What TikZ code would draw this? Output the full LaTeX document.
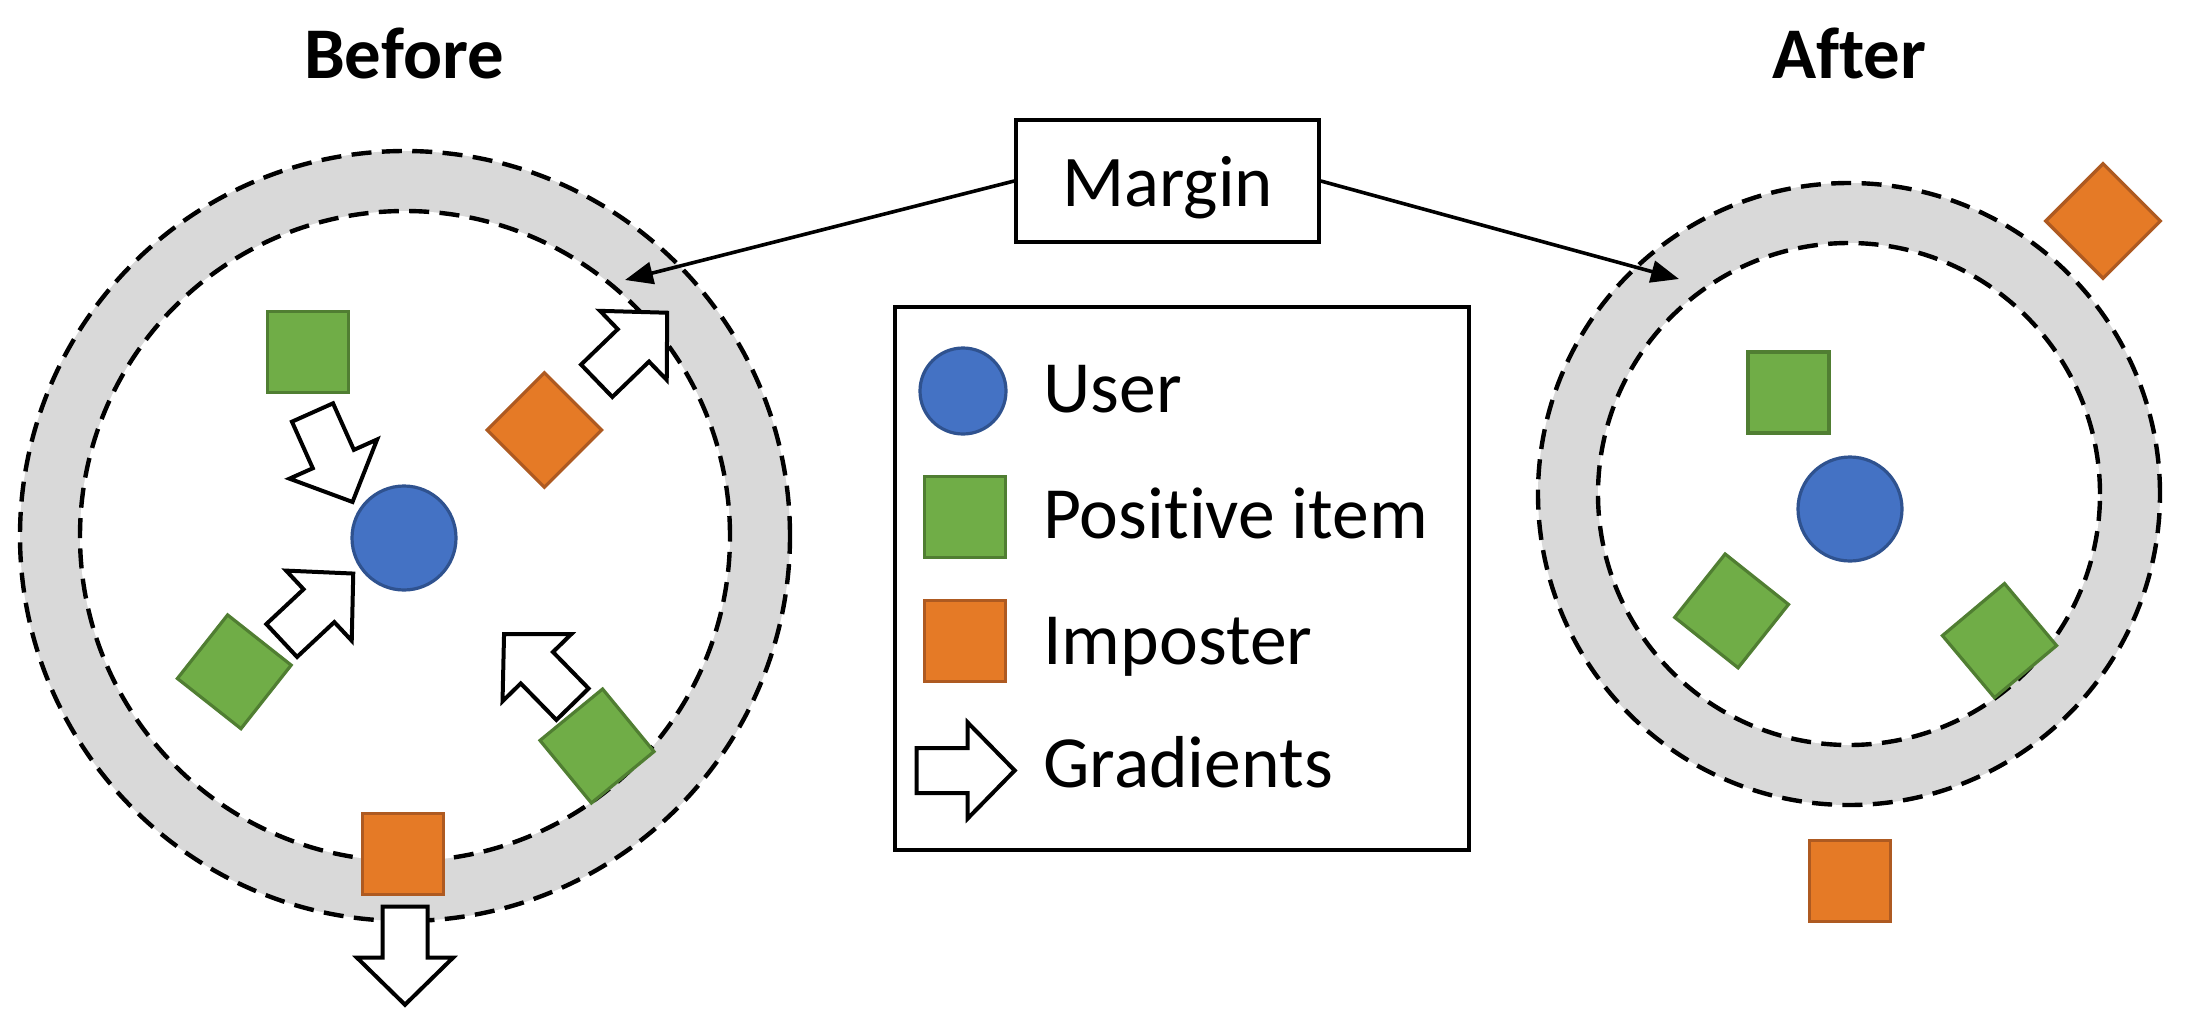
\documentclass[tikz,border=0pt]{standalone}
\usepackage{fontspec}
\setmainfont{Carlito}[Ligatures={NoCommon}]
\usetikzlibrary{arrows.meta}
\definecolor{ublue}{HTML}{4472C4}
\definecolor{ubluedk}{HTML}{2F528F}
\definecolor{pgreen}{HTML}{70AD47}
\definecolor{pgreendk}{HTML}{507E32}
\definecolor{iorange}{HTML}{E57A26}
\definecolor{iorangedk}{HTML}{AE5A21}
\definecolor{ringgray}{HTML}{D9D9D9}
\tikzset{
  ringouter/.style={circle, inner sep=0pt, fill=ringgray, draw=black, line width=1.1pt, dash pattern=on 5pt off 2.6pt},
  ringinner/.style={circle, inner sep=0pt, fill=white, draw=black, line width=1.1pt, dash pattern=on 5pt off 2.6pt},
  usernode/.style={circle, fill=ublue, draw=ubluedk, line width=0.8pt, minimum size=26pt, inner sep=0pt},
  posnode/.style={rectangle, fill=pgreen, draw=pgreendk, line width=0.8pt, minimum size=20.25pt, inner sep=0pt},
  impnode/.style={rectangle, fill=iorange, draw=iorangedk, line width=0.8pt, minimum size=20.25pt, inner sep=0pt},
  gradshape/.style={draw=black, fill=white, line width=1pt, line join=miter},
  boxnode/.style={draw=black, line width=0.9pt, fill=white, inner sep=0pt},
  marginarrow/.style={draw=black, line width=0.9pt, -{Triangle[length=7pt,width=5.5pt]}},
  titletext/.style={font=\fontsize{18.2}{22}\selectfont\bfseries, anchor=base, inner sep=0pt},
  legtext/.style={font=\fontsize{18.4}{22}\selectfont, anchor=base west, inner sep=0pt},
}
% block arrow: tail centre (#1), direction angle #2 (degrees, counter-clockwise on page)
\newcommand{\gradarrow}[2]{%
  \draw[gradshape, shift={(#1)}, rotate=#2]
    (0,-22.5) -- (51,-22.5) -- (51,-48) -- (98,0) -- (51,48) -- (51,22.5) -- (0,22.5) -- cycle;}
\begin{document}
\begin{tikzpicture}[x=0.25pt, y=-0.25pt]
\useasboundingbox (0,0) rectangle (2186,1018);

% ---------- Before ----------
\node[titletext] (tBefore) at (404,78.8) {Before};
\node[ringouter, minimum size=192.5pt] (bOuter) at (405,536) {};
\node[ringinner, minimum size=162.5pt] (bInner) at (405,536) {};

\node[usernode] (bUser) at (404,538) {};
\node[posnode] (bPos1) at (307.6,352) {};
\node[posnode, rotate=-38.3] (bPos2) at (234.3,671.8) {};
\node[posnode, rotate=39.4] (bPos3) at (597,746) {};
\node[impnode, rotate=45] (bImp1) at (544.4,430) {};
\node[impnode] (bImp2) at (403,854) {};

\gradarrow{312.5,412.5}{-65.9}
\gradarrow{281.7,640.5}{43.1}
\gradarrow{596.7,380.8}{44}
\gradarrow{572.5,704.2}{134.3}
\gradarrow{405,906.7}{-90}

% ---------- After ----------
\node[titletext] (tAfter) at (1849,78.8) {After};
\node[ringouter, minimum size=155.5pt] (aOuter) at (1849,494) {};
\node[ringinner, minimum size=125.5pt] (aInner) at (1849,494) {};

\node[usernode] (aUser) at (1850,509) {};
\node[posnode] (aPos1) at (1788.5,392.5) {};
\node[posnode, rotate=-38.5] (aPos2) at (1731.6,610.9) {};
\node[posnode, rotate=40] (aPos3) at (1999.5,640.6) {};
\node[impnode, rotate=45] (aImp1) at (2103,221) {};
\node[impnode] (aImp2) at (1850,881) {};

% ---------- Margin ----------
\node[boxnode, minimum width=75.75pt, minimum height=30.5pt,
      font=\fontsize{18.2}{22}\selectfont, text height=14pt, text depth=1.2pt] (margin) at (1167.5,181) {Margin};
\coordinate (mTipL) at (625,280);
\coordinate (mTipR) at (1679,279);
\draw[marginarrow] (margin.west) -- (mTipL);
\draw[marginarrow] (margin.east) -- (mTipR);

% ---------- Legend ----------
\node[boxnode, minimum width=143.5pt, minimum height=135.75pt] (legend) at (1182,578.5) {};
\node[usernode, minimum size=21.5pt] (lUser) at (963,391) {};
\node[posnode] (lPos) at (965,517) {};
\node[impnode] (lImp) at (965,641) {};
\gradarrow{916.7,770.5}{0}
\node[legtext] (lUserT) at (1042.6,412.7) {User};
\node[legtext] (lPosT) at (1042.6,538.7) {Positive item};
\node[legtext] (lImpT) at (1042.6,664.7) {Imposter};
\node[legtext] (lGradT) at (1042.6,787.4) {Gradients};
\end{tikzpicture}
\end{document}
